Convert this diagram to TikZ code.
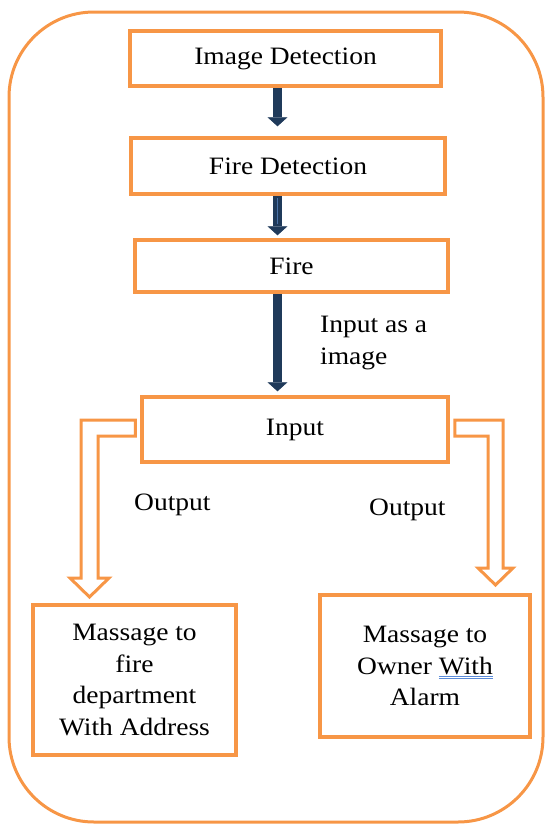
\documentclass[tikz,border=0pt]{standalone}
\usepackage{fontspec}
\setmainfont[FakeStretch=1.1]{Liberation Serif}
\usetikzlibrary{arrows.meta,calc}
\definecolor{orng}{HTML}{F79646}
\definecolor{navy}{HTML}{1F3A5A}
\definecolor{stripe}{HTML}{4A72A8}
\definecolor{ulblue}{HTML}{5B8BD9}
\newcommand\grammarul[1]{\setbox0\hbox{#1}\rlap{\textcolor{ulblue}{\rule[-2.5pt]{\wd0}{1pt}}}\rlap{\textcolor{ulblue}{\rule[-5pt]{\wd0}{1pt}}}\box0}
\begin{document}
\begin{tikzpicture}[x=1pt,y=-1pt,
 every node/.style={font=\fontsize{25}{31.5}\selectfont, inner sep=0pt},
 box/.style={draw=orng, line width=3.5pt, fill=white, align=center},
 flow/.style={draw=navy, line width=9.5pt, -{Triangle[width=20pt,length=9pt,line width=0.5pt]}},
 hollow/.style={draw=orng, line width=3pt, fill=white, line join=miter},
 lbl/.style={align=left, anchor=west}]
\useasboundingbox (0,0) rectangle (546,825);
\draw[draw=orng, line width=3pt, rounded corners=85pt] (9,12) rectangle (543,822);
\coordinate (ax) at (277.5,0);
\node[box, minimum width=311pt, minimum height=55pt] (img) at (285.5,58.5) {Image Detection};
\node[box, minimum width=314pt, minimum height=56pt] (firedet) at (288,166) {Fire Detection};
\node[box, minimum width=313pt, minimum height=52pt] (fire) at (291.5,266) {Fire};
\node[box, minimum width=306pt, minimum height=65pt] (input) at (295,429.5) {Input};
\node[box, minimum width=203pt, minimum height=150pt] (lbox) at (134.5,680) {Massage to\\fire\\department\\With Address};
\node[box, minimum width=210pt, minimum height=142pt] (rbox) at (425,666) {Massage to\\Owner \grammarul{With}\\Alarm};
\draw[flow, shorten >=10pt] (img.south -| ax) -- (firedet.north -| ax);
\draw[flow, shorten >=3pt] (firedet.south -| ax) -- (fire.north -| ax);
\draw[stripe, line width=1.5pt] ($(firedet.south -| ax)+(0,2)$) -- ($(fire.north -| ax)+(0,-14)$);
\draw[flow, shorten >=4pt] (fire.south -| ax) -- (input.north -| ax);
\node[lbl] (lab1) at (320,343) {Input as a\\image};
\node[anchor=base west] (out1) at (134,510) {Output};
\node[anchor=base west] (out2) at (369,515) {Output};
\draw[hollow] ($(input.west)+(-5,-9.5)$) -- (81,420) -- (81,578) -- (70,578) -- (89.5,597) -- (109,578) -- (98,578) -- (98,436) -- ($(input.west)+(-5,6.5)$) -- cycle;
\draw[hollow] ($(input.east)+(5,-9.5)$) -- (503,420) -- (503,568) -- (513,568) -- (495.5,585) -- (478,568) -- (488,568) -- (488,436) -- ($(input.east)+(5,6.5)$) -- cycle;
\end{tikzpicture}
\end{document}
